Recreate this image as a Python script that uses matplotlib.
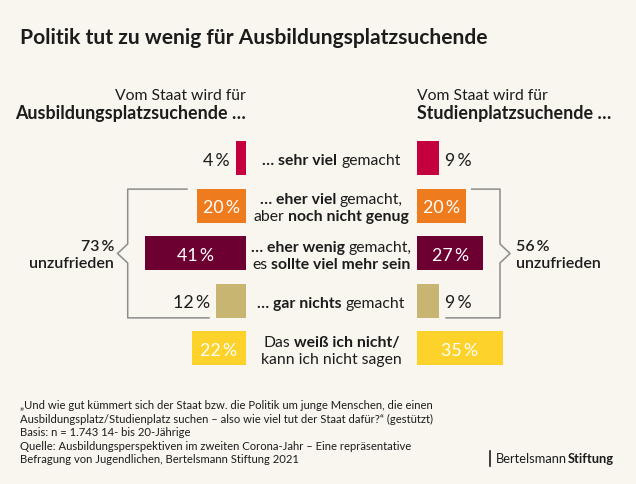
import matplotlib
matplotlib.use("Agg")
import matplotlib.pyplot as plt

# data
rows = ["sehr viel", "eher viel", "eher wenig", "gar nichts", "weiß nicht"]
ausbildung = [4, 20, 41, 12, 22]
studium = [9, 20, 27, 9, 35]
unzufrieden_ausbildung = 73
unzufrieden_studium = 56
colors = ["#c5003e", "#ee7b1d", "#6c0030", "#c9b572", "#fdd32b"]

mid_labels = [
    [[("… sehr viel", "bold"), ("gemacht", "normal")]],
    [[("… eher viel", "bold"), ("gemacht,", "normal")],
     [("aber", "normal"), ("noch nicht genug", "bold")]],
    [[("… eher wenig", "bold"), ("gemacht,", "normal")],
     [("es", "normal"), ("sollte viel mehr sein", "bold")]],
    [[("… gar nichts", "bold"), ("gemacht", "normal")]],
    [[("Das", "normal"), ("weiß ich nicht/", "bold")],
     [("kann ich nicht sagen", "normal")]],
]

title = "Politik tut zu wenig für Ausbildungsplatzsuchende"
footer = [
    "„Und wie gut kümmert sich der Staat bzw. die Politik um junge Menschen, die einen",
    "Ausbildungsplatz/Studienplatz suchen – also wie viel tut der Staat dafür?“ (gestützt)",
    "Basis: n = 1.743 14- bis 20-Jährige",
    "Quelle: Ausbildungsperspektiven im zweiten Corona-Jahr – Eine repräsentative",
    "Befragung von Jugendlichen, Bertelsmann Stiftung 2021",
]

BG = "#f8f6ef"
INK = "#1c1c1c"
GREY = "#8c8c8c"
plt.rcParams["font.family"] = ["Lato", "DejaVu Sans"]

W, H = 636, 485
fig = plt.figure(figsize=(W / 100, H / 100), dpi=100, facecolor=BG)
ov = fig.add_axes([0, 0, 1, 1])
ov.set_xlim(0, W)
ov.set_ylim(H, 0)
ov.axis("off")
ov.set_zorder(3)
ov.patch.set_alpha(0)

px_per_pct = 2.456
left_edge = 245.7
right_edge = 417
top, row_h = 135.2, 47.62
bottom = top + row_h * len(rows)


def fy(py):
    return 1 - py / H


axL = fig.add_axes([0, fy(bottom), left_edge / W, (bottom - top) / H])
axR = fig.add_axes([right_edge / W, fy(bottom), (W - right_edge) / W, (bottom - top) / H])
axL.set_xlim(left_edge / px_per_pct, 0)
axR.set_xlim(0, (W - right_edge) / px_per_pct)
for ax in (axL, axR):
    ax.set_ylim(len(rows) - 0.5, -0.5)
    ax.axis("off")
    ax.patch.set_alpha(0)

ypos = list(range(len(rows)))
axL.barh(ypos, ausbildung, height=0.714, color=colors)
axR.barh(ypos, studium, height=0.714, color=colors)

for ax, vals, side in ((axL, ausbildung, -1), (axR, studium, 1)):
    for i, v in enumerate(vals):
        lab = f"{v}\u2009%"
        if v >= 15:
            ax.text(v / 2, i, lab, ha="center", va="center_baseline",
                    color="white", fontsize=12.8)
        else:
            ax.annotate(lab, (v, i), xytext=(side * 4.5, 0), textcoords="offset points",
                        ha="left" if side > 0 else "right", va="center_baseline",
                        color=INK, fontsize=12.8)

renderer = fig.canvas.get_renderer()


def width_of(s, size, weight):
    t = ov.text(0, 0, s, fontsize=size, fontweight=weight)
    w = t.get_window_extent(renderer).width
    t.remove()
    return w


def rich_line(x, y, parts, size, ha="center"):
    gap = width_of("a a", size, "normal") - width_of("aa", size, "normal")
    ws = [width_of(s, size, wt) for s, wt in parts]
    total = sum(ws) + gap * (len(parts) - 1)
    x0 = x - total / 2 if ha == "center" else (x - total if ha == "right" else x)
    for (s, wt), w in zip(parts, ws):
        ov.text(x0, y, s, fontsize=size, fontweight=wt, ha="left", va="baseline", color=INK)
        x0 += w + gap


mid_x = 331.3
for i, lines in enumerate(mid_labels):
    cy = top + row_h * (i + 0.5)
    if len(lines) == 1:
        rich_line(mid_x, cy + 5.8, lines[0], 11.3)
    else:
        rich_line(mid_x, cy - 2.3, lines[0], 11.3)
        rich_line(mid_x, cy + 14.3, lines[1], 11.3)

# title and column headers
ov.text(19.5, 44, title, fontsize=15.1, fontweight="bold", color=INK, va="baseline")
ov.text(left_edge, 100.5, "Vom Staat wird für", fontsize=11.3, ha="right", va="baseline", color=INK)
ov.text(left_edge, 119, "Ausbildungsplatzsuchende …", fontsize=12.9, fontweight="bold",
        ha="right", va="baseline", color=INK)
ov.text(right_edge, 100.5, "Vom Staat wird für", fontsize=11.3, ha="left", va="baseline", color=INK)
ov.text(right_edge, 119, "Studienplatzsuchende …", fontsize=12.9, fontweight="bold",
        ha="left", va="baseline", color=INK)

# brackets for "unzufrieden"
y1 = top + row_h * 1.5 - 16.5
y3 = top + row_h * 3.5 + 17
ym = (y1 + y3) / 2
ov.plot([187, 127.7, 127.7, 117.5, 127.7, 127.7, 209],
        [y1, y1, ym - 9.5, ym, ym + 9.5, y3, y3], color=GREY, lw=1.1)
ov.plot([471.7, 500, 500, 510, 500, 500, 446],
        [y1, y1, ym - 9.5, ym, ym + 9.5, y3, y3], color=GREY, lw=1.1)
ov.text(114, ym - 3.5, f"{unzufrieden_ausbildung}\u2009%", fontsize=11.5, fontweight="semibold",
        ha="right", va="baseline", color=INK)
ov.text(114, ym + 13.2, "unzufrieden", fontsize=11.5, fontweight="semibold",
        ha="right", va="baseline", color=INK)
ov.text(516, ym - 3.5, f"{unzufrieden_studium}\u2009%", fontsize=11.5, fontweight="semibold",
        ha="left", va="baseline", color=INK)
ov.text(516, ym + 13.2, "unzufrieden", fontsize=11.5, fontweight="semibold",
        ha="left", va="baseline", color=INK)

# footer
for k, line in enumerate(footer):
    ov.text(19.5, 409 + 13.6 * k, line, fontsize=8.1, ha="left", va="baseline", color=INK)

ov.plot([490, 490], [452, 467], color=INK, lw=1.2)
rich_line(496, 463.5, [("Bertelsmann", "normal")], 9.3, ha="left")
bw = width_of("Bertelsmann", 9.3, "normal")
ov.text(496 + bw + 0.5, 463.5, "Stiftung", fontsize=9.3, fontweight="bold",
        ha="left", va="baseline", color=INK)

fig.savefig("out.png", dpi=100, facecolor=BG)
